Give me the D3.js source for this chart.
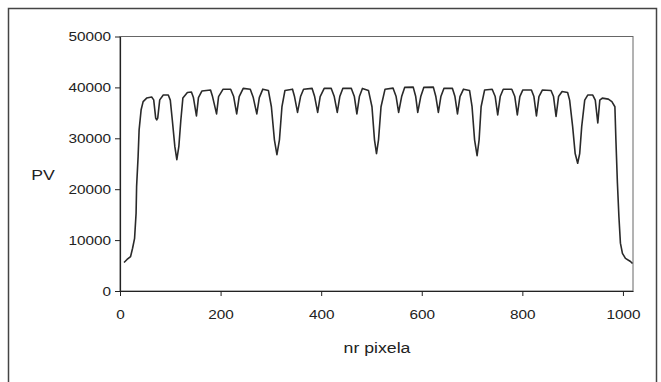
<!DOCTYPE html>
<html>
<head>
<meta charset="utf-8">
<script src="https://cdn.jsdelivr.net/npm/d3@7"></script>
<style>
  body { margin: 0; background: #fff; }
  text { font-family: "Liberation Sans", Arial, sans-serif; fill: #222; }
</style>
</head>
<body>
<div id="chart"></div>
<script>
// pixel index vs PV
const pixelIdx = [
    8, 14, 21, 25, 29, 32, 33, 36, 38, 42, 46, 53, 63, 67, 71, 73, 75, 79, 86, 96,
    100, 104, 109, 113, 117, 121, 125, 134, 142, 146, 152, 156, 163, 180, 184, 192, 196, 205, 220, 226,
    232, 237, 245, 259, 265, 272, 277, 284, 295, 301, 307, 312, 317, 322, 328, 343, 347, 353, 359, 365,
    382, 387, 393, 398, 406, 420, 426, 432, 437, 443, 460, 466, 471, 476, 482, 494, 501, 506, 510, 514,
    519, 527, 543, 549, 554, 560, 566, 583, 588, 592, 598, 604, 623, 628, 633, 638, 644, 661, 666, 671,
    676, 683, 695, 700, 705, 710, 714, 718, 725, 740, 746, 751, 756, 762, 779, 785, 790, 795, 801, 818,
    823, 828, 833, 840, 857, 862, 867, 872, 879, 890, 894, 900, 905, 910, 914, 918, 924, 930, 940, 945,
    950, 954, 959, 971, 978, 984, 986, 989, 992, 995, 999, 1005, 1015, 1019
];
const pvValues = [
    5600, 6200, 6750, 8400, 10350, 15300, 20500, 26400, 31650, 35600, 37200, 37900, 38100, 37550, 33950, 33600, 33950, 37550, 38500, 38500,
    37500, 33600, 28400, 25800, 28400, 33600, 37900, 39000, 39100, 38000, 34400, 38000, 39300, 39500, 38200, 34800, 38200, 39650, 39650, 38200,
    34800, 38200, 39800, 39650, 38000, 34800, 38000, 39650, 39400, 36200, 29700, 26800, 29700, 36200, 39400, 39650, 38200, 35100, 38200, 39650,
    39800, 38200, 35100, 38200, 39800, 39800, 38200, 35100, 38200, 39800, 39800, 38200, 34800, 38200, 39800, 39400, 36200, 29700, 27000, 29700,
    36200, 39650, 39850, 38200, 35100, 38200, 40000, 40050, 38200, 35100, 38200, 40000, 40050, 38200, 35100, 38200, 39800, 39800, 38200, 34800,
    38200, 39650, 39400, 36200, 29700, 26600, 29700, 36200, 39500, 39650, 38200, 34600, 38200, 39650, 39650, 38200, 34600, 38200, 39500, 39500,
    38200, 34400, 38200, 39500, 39400, 38200, 34300, 38200, 39200, 39000, 37500, 32300, 27000, 25100, 27000, 32300, 37500, 38500, 38500, 37500,
    33000, 37500, 37900, 37700, 37200, 36200, 29700, 21200, 14600, 9400, 7400, 6400, 5800, 5400
];
const xTicks = [0, 200, 400, 600, 800, 1000];
const yTicks = [0, 10000, 20000, 30000, 40000, 50000];

const W = 661, H = 382;
const svg = d3.select('#chart').append('svg').attr('width', W).attr('height', H);

// outer chart border (bottom runs off the image)
svg.append('rect')
    .attr('x', 8.5).attr('y', 8.5)
    .attr('width', 648).attr('height', 380)
    .attr('fill', 'none').attr('stroke', '#444').attr('stroke-width', 1.5);

const x = d3.scaleLinear().domain([0, 1020]).range([120, 633]);
const y = d3.scaleLinear().domain([0, 50000]).range([291, 36.5]);

// plot area frame
svg.append('rect')
    .attr('x', x(0)).attr('y', y(50000))
    .attr('width', x(1020) - x(0)).attr('height', y(0) - y(50000))
    .attr('fill', 'none').attr('stroke', '#666').attr('stroke-width', 1);

// the original text looks stretched sideways a bit
const fs = 13, sx = 1.18;

const gx = svg.append('g')
    .attr('transform', `translate(0,${y(0)})`)
    .call(d3.axisBottom(x).tickValues(xTicks).tickSize(5).tickPadding(14).tickSizeOuter(0)
        .tickFormat(d3.format('d')));
const gy = svg.append('g')
    .attr('transform', `translate(${x(0)},0)`)
    .call(d3.axisLeft(y).tickValues(yTicks).tickSize(5).tickPadding(4).tickSizeOuter(0)
        .tickFormat(d3.format('d')));

[gx, gy].forEach(g => {
    g.select('.domain').attr('stroke', '#222').attr('stroke-width', 1.2);
    g.selectAll('.tick line').attr('stroke', '#222');
    g.selectAll('.tick text')
        .attr('font-family', '"Liberation Sans", Arial, sans-serif')
        .attr('font-size', fs).attr('fill', '#222')
        .attr('x', function() { return +d3.select(this).attr('x') / sx; })
        .attr('transform', `scale(${sx},1)`);
});

const line = d3.line()
    .x((d, i) => x(pixelIdx[i]))
    .y(d => y(d));

svg.append('path')
    .datum(pvValues)
    .attr('fill', 'none')
    .attr('stroke', '#2a2a2a')
    .attr('stroke-width', 1.6)
    .attr('stroke-linejoin', 'round')
    .attr('d', line);

svg.append('text')
    .attr('transform', `translate(43,180) scale(${sx},1)`)
    .attr('text-anchor', 'middle')
    .attr('font-size', 15)
    .text('PV');

svg.append('text')
    .attr('transform', `translate(377,353) scale(${sx},1)`)
    .attr('text-anchor', 'middle')
    .attr('font-size', 15)
    .text('nr pixela');
</script>
</body>
</html>
